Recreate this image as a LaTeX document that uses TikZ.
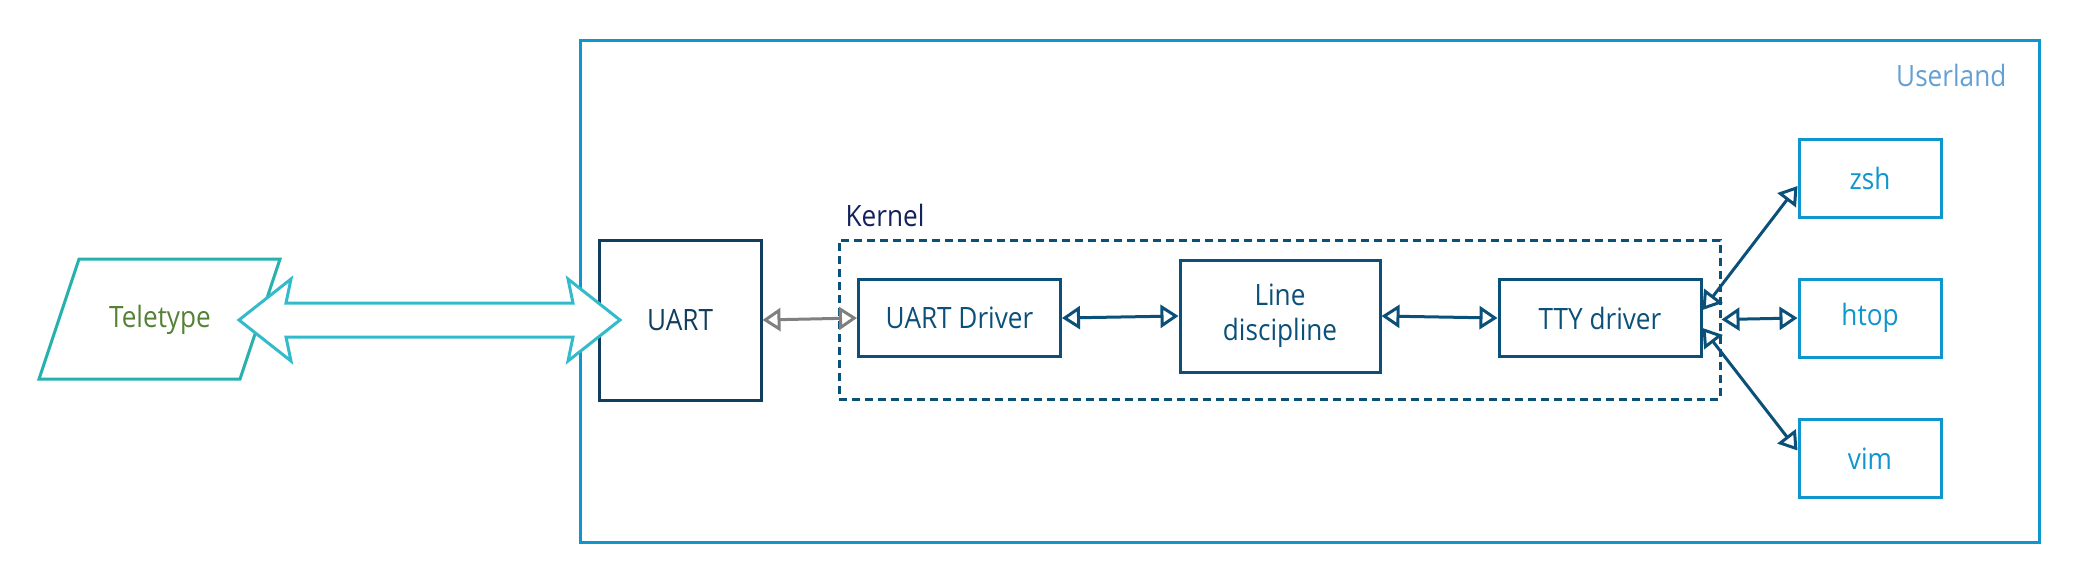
\documentclass[tikz,border=0pt]{standalone}
\usepackage{fontspec}
\setmainfont{Open Sans}[FakeStretch=0.89]
\usetikzlibrary{arrows.meta}
\definecolor{navy}{RGB}{16,62,92}
\definecolor{kblue}{RGB}{11,80,121}
\definecolor{ktext}{RGB}{18,34,94}
\definecolor{ublue}{RGB}{14,150,205}
\definecolor{ulabel}{RGB}{100,160,212}
\definecolor{teal}{RGB}{38,176,174}
\definecolor{arrowcyan}{RGB}{51,187,204}
\definecolor{olive}{RGB}{84,130,53}

\begin{document}
\begin{tikzpicture}[x=0.5pt, y=-0.5pt, line width=1.5pt,
    >={Triangle[open, length=9pt, width=11.5pt]},
    font=\fontsize{14.7}{17.5}\selectfont]
    \tikzstyle{boxed}=[draw=kblue, text=kblue, minimum width=101pt,
      minimum height=38.5pt, align=center]
    \tikzstyle{app}=[draw=ublue, text=ublue, minimum width=71pt,
      minimum height=39pt]
    \useasboundingbox (0,0) rectangle (2081,580);
    \draw (1309.5,291) node[draw=ublue, minimum width=729.5pt, minimum height=251pt,
      label={[anchor=base east, text=ulabel, xshift=-13pt, yshift=-24pt]north east:Userland}] (user) {};
    \draw[teal] (79,259) -- (280,259) -- (240,379) -- (39,379) -- cycle;
    \draw (160,320) node[text=olive] (tele) {Teletype};
    \draw (680,320) node[draw=navy, text=navy, minimum width=81pt, minimum height=80pt] (uart) {UART};
    \draw (1279.5,319.5) node[draw=kblue, dash pattern=on 4pt off 2.5pt, minimum width=440.5pt,
      minimum height=79.5pt, label={[anchor=base west, text=ktext, yshift=6pt]north west:Kernel}] (kernel) {};
    \draw (959.5,318) node[boxed] (udrv) {UART Driver};
    \draw (1280,316) node[boxed, minimum width=100pt, minimum height=56pt] (ldisc) {Line\\discipline};
    \draw (1600,318) node[boxed] (tty) {TTY driver};
    \draw (1870,178) node[app] (zsh) {zsh};
    \draw (1870,318) node[app] (htop) {htop};
    \draw (1870,458.5) node[app] (vim) {vim};
    \draw[<->, gray] (uart.east) -- (udrv.west);
    \draw[<->, kblue] (udrv.east) -- (ldisc.west);
    \draw[<->, kblue] (ldisc.east) -- (tty.west);
    \draw[<->, kblue] ([yshift=4pt]tty.east) -- ([yshift=-4pt]zsh.west);
    \draw[<->, kblue] (kernel.east) -- (htop.west);
    \draw[<->, kblue] ([yshift=-5pt]tty.east) -- ([yshift=4pt]vim.west);
    \draw[arrowcyan, fill=white] (239,320) -- (291,279) -- (286,303) -- (573,303) -- (568,279)
      -- (620,320) -- (568,361) -- (573,337) -- (286,337) -- (291,361) -- cycle;
\end{tikzpicture}
\end{document}
